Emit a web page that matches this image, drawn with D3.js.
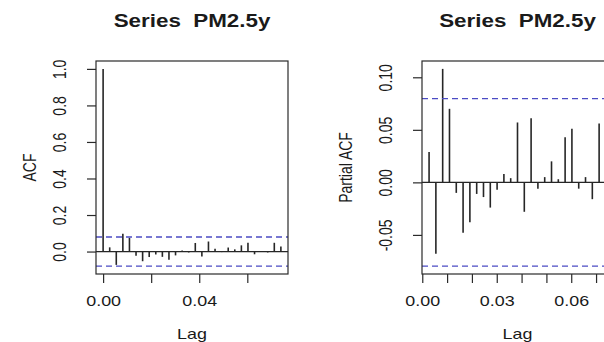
<!DOCTYPE html>
<html>
<head>
<meta charset="utf-8">
<script src="https://cdn.jsdelivr.net/npm/d3@7"></script>
<style>
  html, body { margin: 0; padding: 0; background: #fff; overflow: hidden; }
  svg { display: block; }
  text { font-family: "Liberation Sans", Arial, sans-serif; fill: #1a1a1a; white-space: pre; }
</style>
</head>
<body>
<script>
// ---- data ----
const frequency = 365;                 // lag unit = 1/365
const seriesTitle = "Series  PM2.5y";
const acfLags = [0,1,2,3,4,5,6,7,8,9,10,11,12,13,14,15,16,17,18,19,20,21,22,23,24,25,26,27];
const acfValues = [1.0, 0.023, -0.073, 0.097, 0.075, -0.023, -0.053, -0.030, -0.016, -0.029,
                   -0.045, -0.021, 0.006, -0.005, 0.047, -0.027, 0.055, 0.015, -0.003, 0.022,
                   0.012, 0.034, 0.048, -0.015, -0.002, -0.005, 0.048, 0.028];
const pacfLags = [1,2,3,4,5,6,7,8,9,10,11,12,13,14,15,16,17,18,19,20,21,22,23,24,25,26,27];
const pacfValues = [0.029, -0.068, 0.108, 0.070, -0.010, -0.048, -0.038, -0.011, -0.014, -0.024,
                    -0.007, 0.008, 0.004, 0.057, -0.028, 0.061, -0.006, 0.005, 0.020, 0.003,
                    0.043, 0.051, -0.006, 0.005, -0.016, 0.056, -0.012];
const confLimit = 0.0797;
const acfXTicks = [0, 0.02, 0.04, 0.06];
const acfXLabels = ["0.00", "", "0.04", ""];
const acfYTicks = [0, 0.2, 0.4, 0.6, 0.8, 1.0];
const acfYLabels = ["0.0", "0.2", "0.4", "0.6", "0.8", "1.0"];
const pacfXTicks = [0, 0.01, 0.02, 0.03, 0.04, 0.05, 0.06, 0.07];
const pacfXLabels = ["0.00", "", "", "0.03", "", "", "0.06", ""];
const pacfYTicks = [-0.05, 0, 0.05, 0.10];
const pacfYLabels = ["-0.05", "0.00", "0.05", "0.10"];

// ---- layout ----
const W = 604, H = 342;
const SX = 1.28; // horizontal stretch of the reference image
const svg = d3.select("body").append("svg").attr("width", W).attr("height", H);

function ext(lo, hi) { const r = hi - lo; return [lo - 0.04 * r, hi + 0.04 * r]; }

function panel(opt) {
  const { x0, x1, y0, y1, lags, vals, xTicks, xLabels, yTicks, yLabels, ylab, ylabOff } = opt;
  const lagPos = lags.map(l => l / frequency);
  const xs = d3.scaleLinear().domain(ext(d3.min(lagPos), d3.max(lagPos))).range([x0, x1]);
  const yMin = Math.min(-confLimit, d3.min(vals)), yMax = Math.max(confLimit, d3.max(vals));
  const ys = d3.scaleLinear().domain(ext(yMin, yMax)).range([y1, y0]);
  const g = svg.append("g");

  // clipped plot content
  const cid = "clip" + Math.round(x0);
  svg.append("clipPath").attr("id", cid).append("rect")
    .attr("x", x0).attr("y", y0).attr("width", x1 - x0).attr("height", y1 - y0);
  const pc = g.append("g").attr("clip-path", `url(#${cid})`);

  // bars (type = "h")
  pc.selectAll("line.bar").data(vals).join("line").attr("class", "bar")
    .attr("x1", (d, i) => xs(lagPos[i])).attr("x2", (d, i) => xs(lagPos[i]))
    .attr("y1", ys(0)).attr("y2", d => ys(d))
    .attr("stroke", "#262626").attr("stroke-width", 1.6);
  // zero line
  pc.append("line").attr("x1", x0).attr("x2", x1).attr("y1", ys(0)).attr("y2", ys(0))
    .attr("stroke", "#262626").attr("stroke-width", 1.2);
  // confidence limits
  [confLimit, -confLimit].forEach(c => {
    pc.append("line").attr("x1", x0).attr("x2", x1).attr("y1", ys(c)).attr("y2", ys(c))
      .attr("stroke", "#4b4bc4").attr("stroke-width", 1.3).attr("stroke-dasharray", "6,4");
  });

  // box
  g.append("rect").attr("x", x0).attr("y", y0).attr("width", x1 - x0).attr("height", y1 - y0)
    .attr("fill", "none").attr("stroke", "#2a2a2a").attr("stroke-width", 1.2);

  // x axis
  const xa = g.append("g").attr("transform", `translate(0,${y1})`)
    .call(d3.axisBottom(xs).tickValues(xTicks).tickSize(9).tickFormat((d, i) => xLabels[i]));
  xa.select(".domain").remove();
  xa.selectAll(".tick line").attr("stroke", "#2a2a2a").attr("stroke-width", 1.2);
  xa.selectAll(".tick text").attr("y", null).attr("dy", null)
    .attr("transform", `translate(0,${32}) scale(${SX},1)`)
    .attr("font-size", 14).attr("fill", "#1a1a1a")
    .style("font-family", '"Liberation Sans", Arial, sans-serif');

  // y axis
  const ya = g.append("g").attr("transform", `translate(${x0},0)`)
    .call(d3.axisLeft(ys).tickValues(yTicks).tickSize(9).tickFormat((d, i) => yLabels[i]));
  ya.select(".domain").remove();
  ya.selectAll(".tick line").attr("stroke", "#2a2a2a").attr("stroke-width", 1.2);
  ya.selectAll(".tick text").attr("x", null).attr("dy", null).attr("text-anchor", "middle")
    .attr("transform", `translate(${-30},0) scale(${SX},1) rotate(-90)`)
    .attr("font-size", 14).attr("fill", "#1a1a1a")
    .style("font-family", '"Liberation Sans", Arial, sans-serif');

  const cx = (x0 + x1) / 2, cy = (y0 + y1) / 2;
  // title
  g.append("text").attr("text-anchor", "middle").attr("font-weight", "bold").attr("font-size", 17.5)
    .attr("transform", `translate(${cx},27) scale(${SX},1)`).text(seriesTitle);
  // x label
  g.append("text").attr("text-anchor", "middle").attr("font-size", 14)
    .attr("transform", `translate(${cx},339) scale(${SX},1)`).text("Lag");
  // y label
  g.append("text").attr("text-anchor", "middle").attr("font-size", 14)
    .attr("transform", `translate(${x0 - ylabOff},${cy}) scale(${SX},1) rotate(-90)`).text(ylab);
}

panel({ x0: 96, x1: 288, y0: 61, y1: 274, lags: acfLags, vals: acfValues,
        xTicks: acfXTicks, xLabels: acfXLabels, yTicks: acfYTicks, yLabels: acfYLabels,
        ylab: "ACF", ylabOff: 60 });
panel({ x0: 422, x1: 613, y0: 61, y1: 274, lags: pacfLags, vals: pacfValues,
        xTicks: pacfXTicks, xLabels: pacfXLabels, yTicks: pacfYTicks, yLabels: pacfYLabels,
        ylab: "Partial ACF", ylabOff: 70 });
</script>
</body>
</html>
